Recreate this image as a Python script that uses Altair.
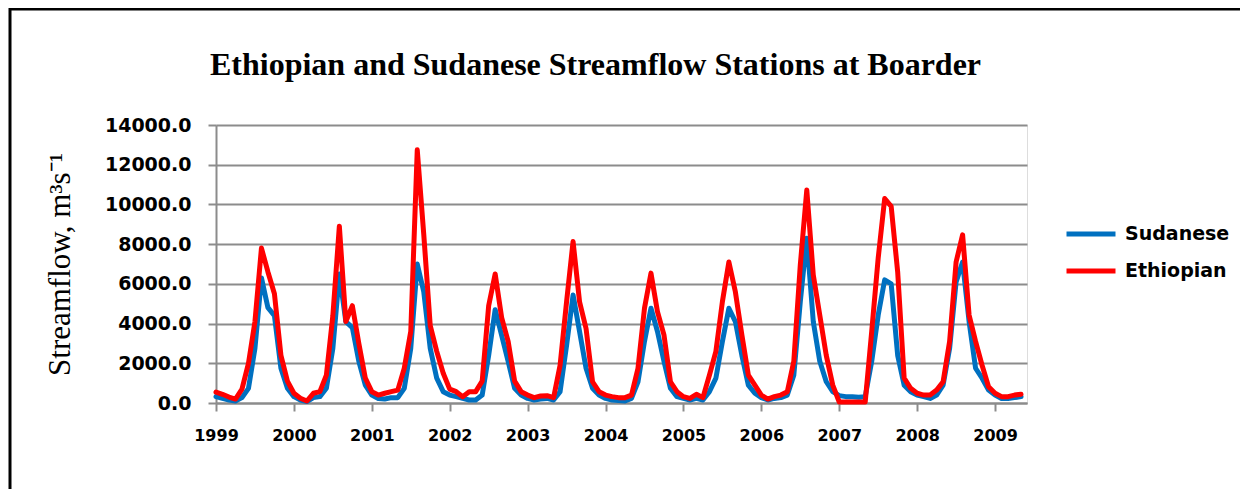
import altair as alt
import pandas as pd

title_text = "Ethiopian and Sudanese Streamflow Stations at Boarder"
y_title = "Streamflow, m³s⁻¹"
start_year = 1999
year_ticks = list(range(1999, 2010))
y_ticks = list(range(0, 14001, 2000))
stations = ["Sudanese", "Ethiopian"]
colors = ["#0070C0", "#FF0000"]

# monthly values, Jan 1999 .. May 2009
sudanese = [
    320, 230, 150, 100, 270, 740, 2750, 6300, 4800, 4400, 1750, 740,
    320, 150, 70, 270, 320, 740, 2750, 6500, 4100, 3800, 2100, 900,
    400, 230, 200, 270, 270, 740, 2750, 7000, 5600, 2750, 1250, 570,
    400, 320, 230, 150, 150, 400, 2400, 4700, 3400, 2100, 740, 400,
    230, 150, 200, 230, 150, 570, 2900, 5440, 3600, 1750, 740, 400,
    230, 150, 120, 100, 230, 1070, 3100, 4770, 3600, 2100, 740, 320,
    230, 150, 230, 150, 570, 1250, 3100, 4770, 4100, 2400, 900, 490,
    270, 150, 230, 270, 400, 1400, 5100, 8300, 4100, 2100, 1070, 570,
    370, 320, 320, 290, 320, 2100, 4430, 6200, 6000, 2400, 900, 570,
    400, 320, 230, 400, 900, 2750, 6100, 7100, 4100, 1750, 1250, 650,
    400, 230, 230, 270, 320,
]
ethiopian = [
    550, 440, 300, 200, 700, 2000, 4100, 7800, 6600, 5500, 2400, 1100,
    490, 240, 100, 490, 570, 1400, 4400, 8900, 4100, 4900, 3000, 1250,
    570, 400, 490, 570, 650, 1750, 3600, 12750, 8500, 3900, 2600, 1500,
    700, 570, 320, 570, 570, 1100, 4900, 6500, 4300, 3100, 1100, 570,
    400, 270, 350, 370, 270, 1900, 5100, 8130, 5100, 3750, 1070, 570,
    400, 320, 270, 270, 400, 1750, 4770, 6540, 4600, 3430, 1070, 570,
    320, 230, 440, 270, 1400, 2600, 5100, 7100, 5600, 3430, 1400, 900,
    400, 200, 320, 400, 570, 2100, 6950, 10730, 6450, 4430, 2400, 900,
    50, 50, 50, 50, 50, 3600, 7300, 10300, 9900, 6600, 1250, 740,
    490, 400, 400, 650, 1070, 3100, 7100, 8470, 4430, 3100, 1900, 820,
    490, 320, 320, 400, 440,
]

n = len(sudanese)
t = [start_year + i / 12 for i in range(n)]
df = pd.DataFrame({
    "t": t + t,
    "flow": sudanese + ethiopian,
    "station": ["Sudanese"] * n + ["Ethiopian"] * n,
})

grid_gray = "#8c8c8c"

x_enc = alt.X(
    "t:Q",
    scale=alt.Scale(domain=[1999, 2009.41], nice=False, zero=False),
    axis=alt.Axis(
        values=year_ticks, format="d", title=None, grid=False,
        tickSize=8, tickColor=grid_gray, tickWidth=2,
        domainColor=grid_gray, domainWidth=2,
        labelFont="DejaVu Sans", labelFontWeight="bold", labelFontSize=16,
        labelColor="#000000", labelPadding=16, labelFlush=False,
    ),
)
y_enc = alt.Y(
    "flow:Q",
    scale=alt.Scale(domain=[0, 14000], nice=False),
    axis=alt.Axis(
        values=y_ticks, format=".1f", title=y_title,
        titleFont="Liberation Serif", titleFontWeight="normal", titleFontSize=31,
        titleColor="#000000", titlePadding=28,
        grid=True, gridColor=grid_gray, gridWidth=2,
        tickSize=8, tickColor=grid_gray, tickWidth=2,
        domainColor=grid_gray, domainWidth=2,
        labelFont="DejaVu Sans", labelFontWeight="bold", labelFontSize=19,
        labelColor="#000000", labelPadding=17,
    ),
)
color_enc = alt.Color(
    "station:N",
    scale=alt.Scale(domain=stations, range=colors),
    legend=alt.Legend(
        orient="none", legendX=848, legendY=82, title=None,
        symbolType="stroke", symbolSize=2400, symbolStrokeWidth=5,
        labelFont="DejaVu Sans", labelFontWeight="bold", labelFontSize=19,
        labelColor="#000000", labelOffset=7, rowPadding=0, padding=0,
    ),
)

base = alt.Chart(df)
blue = base.transform_filter(alt.datum.station == "Sudanese").mark_line(
    strokeWidth=5, strokeCap="round", strokeJoin="round"
).encode(x=x_enc, y=y_enc, color=color_enc)
red = base.transform_filter(alt.datum.station == "Ethiopian").mark_line(
    strokeWidth=5, strokeCap="round", strokeJoin="round"
).encode(x=x_enc, y=y_enc, color=color_enc)

frame_df = pd.DataFrame({"k": [0]})
left_border = alt.Chart(frame_df).mark_rule(color="black", strokeWidth=3).encode(
    x=alt.value(-206), y=alt.value(-117), y2=alt.value(366)
)
top_border = alt.Chart(frame_df).mark_rule(color="black", strokeWidth=3).encode(
    x=alt.value(-207), x2=alt.value(1024), y=alt.value(-116)
)

chart = alt.layer(blue, red, left_border, top_border).properties(
    width=811,
    height=278,
    autosize=alt.AutoSizeParams(type="none"),
    padding={"left": 208, "top": 117, "right": 214, "bottom": 86},
    title=alt.TitleParams(
        title_text, font="Liberation Serif", fontSize=32, fontWeight="bold",
        color="#000000", anchor="middle", frame="group", dx=-26, offset=-75,
    ),
).configure_view(stroke=None).configure(background="white")

chart.save("out.html", embed_options={"renderer": "svg", "actions": False})
